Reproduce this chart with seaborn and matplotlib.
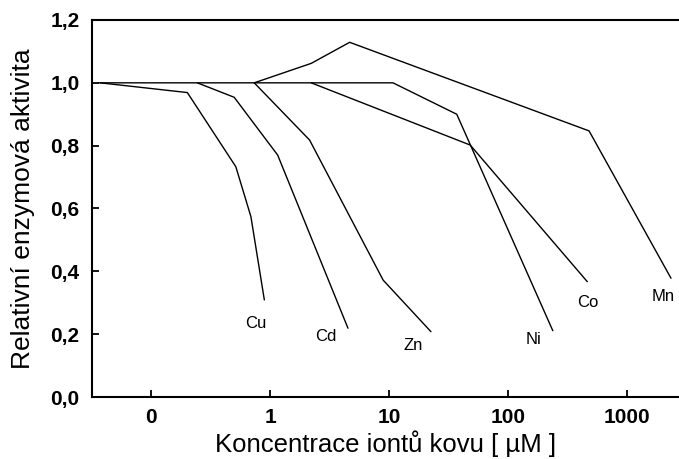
import numpy as np
import pandas as pd
import matplotlib
matplotlib.use("Agg")
import matplotlib.pyplot as plt
import seaborn as sns

# ---- data ----
cu_x = [0.0375, 0.202, 0.516, 0.691, 0.896]
cu_y = [1.0, 0.969, 0.733, 0.574, 0.309]

cd_x = [0.245, 0.50, 1.16, 4.52]
cd_y = [1.0, 0.954, 0.770, 0.219]

zn_x = [0.737, 2.15, 8.93, 22.5]
zn_y = [1.0, 0.818, 0.372, 0.208]

ni_x = [0.036, 10.8, 37.1, 238.0]
ni_y = [1.0, 1.0, 0.900, 0.211]

co_x = [2.22, 48.1, 464.0]
co_y = [1.0, 0.802, 0.367]

mn_x = [0.737, 2.22, 4.67, 480.0, 2343.0]
mn_y = [1.0, 1.062, 1.129, 0.847, 0.378]

metals = ["Cu", "Cd", "Zn", "Ni", "Co", "Mn"]
label_x = [0.762, 2.97, 16.0, 162.6, 464.0, 2020.0]
label_y = [0.2355, 0.191, 0.1655, 0.1837, 0.300, 0.319]

x_ticks = [0.1, 1, 10, 100, 1000]
x_ticklabels = ["0", "1", "10", "100", "1000"]
y_ticks = [0.0, 0.2, 0.4, 0.6, 0.8, 1.0, 1.2]
y_ticklabels = ["0,0", "0,2", "0,4", "0,6", "0,8", "1,0", "1,2"]

xlabel = "Koncentrace iontů kovu [ µM ]"
ylabel = "Relativní enzymová aktivita"

# ---- build long table ----
series = {"Cu": (cu_x, cu_y), "Cd": (cd_x, cd_y), "Zn": (zn_x, zn_y),
          "Ni": (ni_x, ni_y), "Co": (co_x, co_y), "Mn": (mn_x, mn_y)}
rows = []
for m, (xs, ys) in series.items():
    for i, (xv, yv) in enumerate(zip(xs, ys)):
        rows.append({"metal": m, "order": i, "conc": xv, "act": yv})
df = pd.DataFrame(rows)

sns.set_theme(style="white")
plt.rcParams["font.family"] = ["Liberation Sans", "DejaVu Sans"]
plt.rcParams["text.color"] = "black"
plt.rcParams["axes.labelcolor"] = "black"

fig = plt.figure(figsize=(6.79, 4.59), dpi=100)
ax = fig.add_axes([92 / 679, (459 - 397) / 459, (679 - 92) / 679, (397 - 20) / 459])

sns.lineplot(data=df, x="conc", y="act", units="metal", estimator=None,
             sort=False, color="black", linewidth=1.0, ax=ax, legend=False)

ax.set_xscale("log")
ax.set_xlim(10 ** -1.496, 10 ** 3.437)
ax.set_ylim(0, 1.2)

ax.set_xticks(x_ticks)
ax.set_xticklabels(x_ticklabels, fontsize=15, fontweight="bold")
ax.set_yticks(y_ticks)
ax.set_yticklabels(y_ticklabels, fontsize=15, fontweight="bold")
ax.minorticks_off()
ax.tick_params(axis="both", direction="in", length=5, width=1.3,
               color="black", labelcolor="black")
ax.tick_params(axis="y", pad=9, left=True)
ax.tick_params(axis="x", pad=8, bottom=True)

for lx, ly, m in zip(label_x, label_y, metals):
    ax.text(lx, ly, m, fontsize=12, ha="center", va="center", color="black")

ax.set_xlabel(xlabel, fontsize=18.5, labelpad=2, color="black")
ax.set_ylabel(ylabel, fontsize=19, labelpad=11, color="black")

for s in ["left", "bottom", "top"]:
    ax.spines[s].set_visible(True)
    ax.spines[s].set_linewidth(1.5)
    ax.spines[s].set_color("black")
ax.spines["right"].set_visible(False)

ax.set_facecolor("white")
fig.patch.set_facecolor("white")

fig.savefig("out.png", dpi=100)
